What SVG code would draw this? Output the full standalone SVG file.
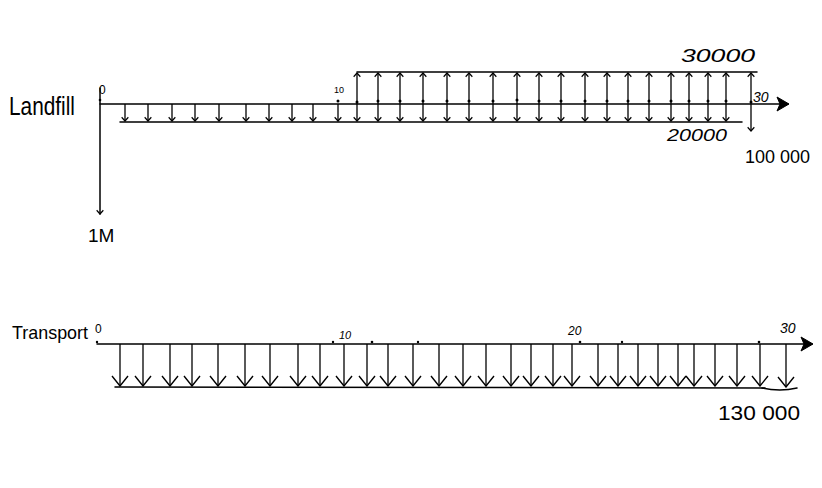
<svg xmlns="http://www.w3.org/2000/svg" width="822" height="488" viewBox="0 0 822 488">
<style>
.ln{stroke:#000;stroke-width:1.5;fill:none;stroke-linecap:round}
.th{stroke:#000;stroke-width:1.3;fill:none}
.t{font-family:"Liberation Sans",Arial,sans-serif;fill:#000}
.sm{marker-end:url(#sv)}
.bg{marker-end:url(#bv)}
</style>
<defs>
<marker id="sv" viewBox="-6 -6 12 12" markerWidth="10" markerHeight="10" refX="0" refY="0" orient="auto" markerUnits="userSpaceOnUse">
<path d="M-4.5,-4 L0,0 L-4.5,4" stroke="#000" stroke-width="1.4" fill="none"/>
</marker>
<marker id="bv" viewBox="-11 -9 12 18" markerWidth="12" markerHeight="18" refX="0" refY="0" orient="auto" markerUnits="userSpaceOnUse">
<path d="M-10,-8 L0,0 L-10,8" stroke="#000" stroke-width="1.4" fill="none"/>
</marker>
<marker id="fa" viewBox="-12 -8 14 16" markerWidth="14" markerHeight="16" refX="0" refY="0" orient="auto" markerUnits="userSpaceOnUse">
<path d="M-11,-7 L1,0 L-11,7 L-8,0 Z" fill="#000" stroke="#000" stroke-width="1"/>
</marker>
</defs>

<g id="landfill">
<text class="t" x="9" y="115" font-size="25" textLength="66" lengthAdjust="spacingAndGlyphs">Landfill</text>
<text class="t" x="99" y="94" font-size="12">0</text>
<text class="t" x="334" y="93" font-size="9">10</text>
<text class="t" x="681" y="62" font-size="18" font-style="italic" textLength="74" lengthAdjust="spacingAndGlyphs">30000</text>
<text class="t" x="753" y="102" font-size="14" font-style="italic">30</text>
<text class="t" x="667" y="141" font-size="17" font-style="italic" textLength="60" lengthAdjust="spacingAndGlyphs">20000</text>
<text class="t" x="745" y="163" font-size="19" textLength="65" lengthAdjust="spacingAndGlyphs">100 000</text>
<text class="t" x="88" y="242" font-size="19">1M</text>
</g>

<g id="transport">
<text class="t" x="12" y="339" font-size="19" textLength="76" lengthAdjust="spacingAndGlyphs">Transport</text>
<text class="t" x="95" y="333" font-size="12">0</text>
<text class="t" x="339" y="339" font-size="11" font-style="italic">10</text>
<text class="t" x="568" y="335" font-size="12" font-style="italic">20</text>
<text class="t" x="780" y="333" font-size="14" font-style="italic">30</text>
<text class="t" x="718" y="420" font-size="20" textLength="82" lengthAdjust="spacingAndGlyphs">130 000</text>
</g>

<g id="connectors">
<line class="ln" x1="100" y1="88" x2="100" y2="214" marker-end="url(#sv)"/>
<line class="ln" x1="100" y1="104" x2="788" y2="104" marker-end="url(#fa)"/>
<line class="ln" x1="120" y1="122" x2="742" y2="122"/>
<line class="ln" x1="357" y1="72" x2="757" y2="72"/>
<g class="th">
<line class="sm" x1="125" y1="104" x2="125" y2="121"/>
<line class="sm" x1="148" y1="104" x2="148" y2="121"/>
<line class="sm" x1="172" y1="104" x2="172" y2="121"/>
<line class="sm" x1="195" y1="104" x2="195" y2="121"/>
<line class="sm" x1="219" y1="104" x2="219" y2="121"/>
<line class="sm" x1="246" y1="104" x2="246" y2="121"/>
<line class="sm" x1="269" y1="104" x2="269" y2="121"/>
<line class="sm" x1="292" y1="104" x2="292" y2="121"/>
<line class="sm" x1="313" y1="104" x2="313" y2="121"/>
<line class="sm" x1="338" y1="104" x2="338" y2="121"/>
<line class="sm" x1="357" y1="104" x2="357" y2="121"/>
<line class="sm" x1="378" y1="104" x2="378" y2="121"/>
<line class="sm" x1="400" y1="104" x2="400" y2="121"/>
<line class="sm" x1="423" y1="104" x2="423" y2="121"/>
<line class="sm" x1="447" y1="104" x2="447" y2="121"/>
<line class="sm" x1="469" y1="104" x2="469" y2="121"/>
<line class="sm" x1="493" y1="104" x2="493" y2="121"/>
<line class="sm" x1="517" y1="104" x2="517" y2="121"/>
<line class="sm" x1="539" y1="104" x2="539" y2="121"/>
<line class="sm" x1="561" y1="104" x2="561" y2="121"/>
<line class="sm" x1="585" y1="104" x2="585" y2="121"/>
<line class="sm" x1="607" y1="104" x2="607" y2="121"/>
<line class="sm" x1="628" y1="104" x2="628" y2="121"/>
<line class="sm" x1="649" y1="104" x2="649" y2="121"/>
<line class="sm" x1="671" y1="104" x2="671" y2="121"/>
<line class="sm" x1="689" y1="104" x2="689" y2="121"/>
<line class="sm" x1="708" y1="104" x2="708" y2="121"/>
<line class="sm" x1="726" y1="104" x2="726" y2="121"/>
<line class="sm" x1="751" y1="104" x2="751" y2="131"/>
<line class="sm" x1="357" y1="104" x2="357" y2="73"/>
<line class="sm" x1="378" y1="104" x2="378" y2="73"/>
<line class="sm" x1="400" y1="104" x2="400" y2="73"/>
<line class="sm" x1="423" y1="104" x2="423" y2="73"/>
<line class="sm" x1="447" y1="104" x2="447" y2="73"/>
<line class="sm" x1="469" y1="104" x2="469" y2="73"/>
<line class="sm" x1="493" y1="104" x2="493" y2="73"/>
<line class="sm" x1="517" y1="104" x2="517" y2="73"/>
<line class="sm" x1="539" y1="104" x2="539" y2="73"/>
<line class="sm" x1="561" y1="104" x2="561" y2="73"/>
<line class="sm" x1="585" y1="104" x2="585" y2="73"/>
<line class="sm" x1="607" y1="104" x2="607" y2="73"/>
<line class="sm" x1="628" y1="104" x2="628" y2="73"/>
<line class="sm" x1="649" y1="104" x2="649" y2="73"/>
<line class="sm" x1="671" y1="104" x2="671" y2="73"/>
<line class="sm" x1="689" y1="104" x2="689" y2="73"/>
<line class="sm" x1="708" y1="104" x2="708" y2="73"/>
<line class="sm" x1="726" y1="104" x2="726" y2="73"/>
<line class="sm" x1="751" y1="104" x2="751" y2="73"/>
</g>
<g fill="#000">
<circle cx="100" cy="100" r="1.3"/><circle cx="338" cy="101" r="1.5"/>
<circle cx="357" cy="102" r="1.5"/><circle cx="378" cy="101" r="1.5"/><circle cx="400" cy="101" r="1.5"/><circle cx="423" cy="101" r="1.5"/><circle cx="447" cy="101" r="1.5"/><circle cx="469" cy="101" r="1.5"/><circle cx="493" cy="101" r="1.5"/><circle cx="517" cy="100" r="1.5"/><circle cx="539" cy="101" r="1.5"/><circle cx="561" cy="101" r="1.5"/><circle cx="585" cy="101" r="1.5"/><circle cx="607" cy="101" r="1.5"/><circle cx="628" cy="101" r="1.5"/><circle cx="649" cy="101" r="1.5"/><circle cx="671" cy="101" r="1.5"/><circle cx="689" cy="101" r="1.5"/><circle cx="708" cy="101" r="1.5"/><circle cx="726" cy="101" r="1.5"/><circle cx="751" cy="102" r="1.5"/>
</g>

<line class="ln" x1="97" y1="344" x2="812" y2="344" marker-end="url(#fa)"/>
<path class="ln" d="M115,387 L765,388"/>
<path class="ln" d="M762,388 Q780,392 797,388"/>
<g class="th">
<line class="bg" x1="120" y1="344" x2="120" y2="386"/>
<line class="bg" x1="143" y1="344" x2="143" y2="386"/>
<line class="bg" x1="170" y1="344" x2="170" y2="386"/>
<line class="bg" x1="192" y1="344" x2="192" y2="386"/>
<line class="bg" x1="218" y1="344" x2="218" y2="386"/>
<line class="bg" x1="245" y1="344" x2="245" y2="386"/>
<line class="bg" x1="270" y1="344" x2="270" y2="386"/>
<line class="bg" x1="298" y1="344" x2="298" y2="386"/>
<line class="bg" x1="320" y1="344" x2="320" y2="386"/>
<line class="bg" x1="344" y1="344" x2="344" y2="386"/>
<line class="bg" x1="367" y1="344" x2="367" y2="386"/>
<line class="bg" x1="388" y1="344" x2="388" y2="386"/>
<line class="bg" x1="413" y1="344" x2="413" y2="386"/>
<line class="bg" x1="439" y1="344" x2="439" y2="386"/>
<line class="bg" x1="463" y1="344" x2="463" y2="386"/>
<line class="bg" x1="486" y1="344" x2="486" y2="386"/>
<line class="bg" x1="511" y1="344" x2="511" y2="386"/>
<line class="bg" x1="531" y1="344" x2="531" y2="386"/>
<line class="bg" x1="553" y1="344" x2="553" y2="386"/>
<line class="bg" x1="572" y1="344" x2="572" y2="386"/>
<line class="bg" x1="598" y1="344" x2="598" y2="386"/>
<line class="bg" x1="618" y1="344" x2="618" y2="386"/>
<line class="bg" x1="638" y1="344" x2="638" y2="386"/>
<line class="bg" x1="658" y1="344" x2="658" y2="386"/>
<line class="bg" x1="678" y1="344" x2="678" y2="386"/>
<line class="bg" x1="694" y1="344" x2="694" y2="386"/>
<line class="bg" x1="715" y1="344" x2="715" y2="386"/>
<line class="bg" x1="737" y1="344" x2="737" y2="386"/>
<line class="bg" x1="760" y1="344" x2="760" y2="386"/>
<line class="bg" x1="786" y1="344" x2="786" y2="387"/>
</g>
<g fill="#000">
<circle cx="97" cy="342" r="1.2"/><circle cx="333" cy="342" r="1.2"/><circle cx="372" cy="342" r="1.3"/><circle cx="418" cy="342" r="1.2"/><circle cx="580" cy="342" r="1.3"/><circle cx="622" cy="342" r="1.2"/><circle cx="759" cy="342" r="1.3"/>
</g>
</g>
</svg>
